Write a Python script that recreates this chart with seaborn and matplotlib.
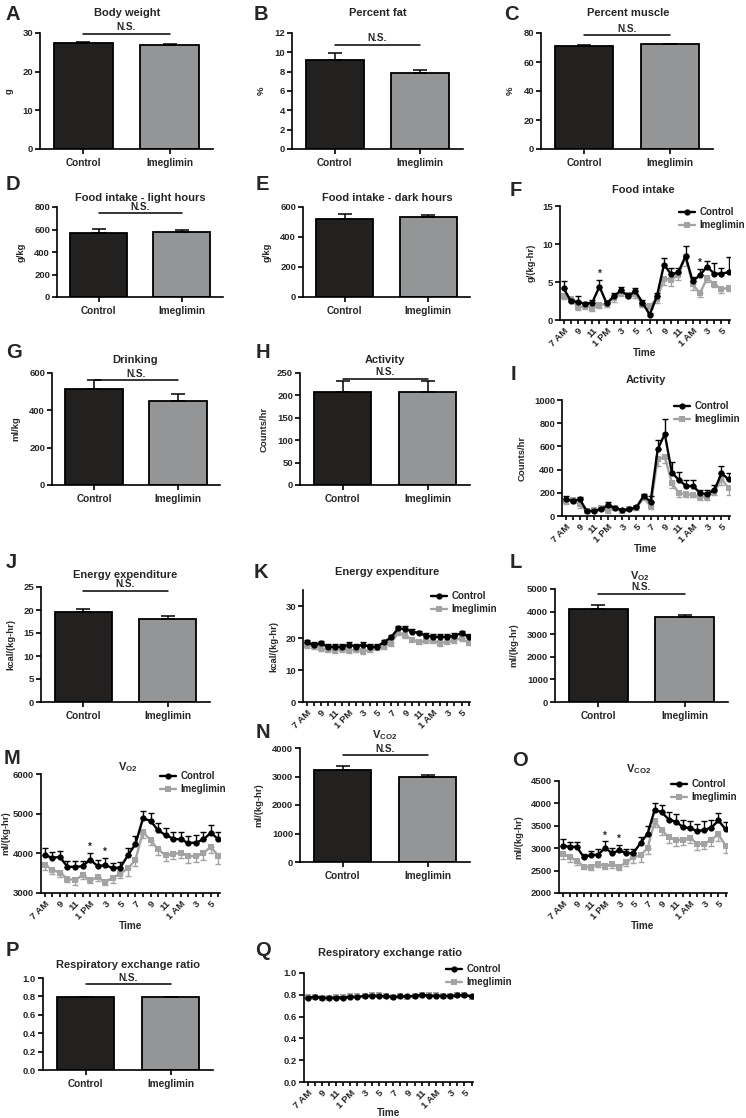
import numpy as np
import pandas as pd
import seaborn as sns
from matplotlib import pyplot as plt

sns.set_theme(style="ticks")
plt.rcParams['font.family'] = ['Liberation Sans', 'DejaVu Sans']
plt.rcParams['font.weight'] = 'bold'
plt.rcParams['axes.labelweight'] = 'bold'
plt.rcParams['mathtext.fontset'] = 'custom'
plt.rcParams['mathtext.bf'] = 'Liberation Sans:bold'
plt.rcParams['mathtext.rm'] = 'Liberation Sans:bold'
plt.rcParams['mathtext.default'] = 'bf'

# ---------------- data ----------------
groups = ['Control', 'Imeglimin']

body_weight = [27.3, 26.9]
body_weight_sem = [0.5, 0.3]
pct_fat = [9.2, 7.9]
pct_fat_sem = [0.7, 0.3]
pct_muscle = [71.2, 72.3]
pct_muscle_sem = [0.8, 0.3]
food_light = [565, 580]
food_light_sem = [40, 18]
food_dark = [518, 533]
food_dark_sem = [35, 15]
drinking = [515, 450]
drinking_sem = [45, 40]
activity = [207, 207]
activity_sem = [25, 25]
energy = [19.6, 18.1]
energy_sem = [0.7, 0.5]
vo2 = [4100, 3760]
vo2_sem = [170, 110]
vco2 = [3240, 2970]
vco2_sem = [130, 90]
rer = [0.79, 0.79]
rer_sem = [0.005, 0.005]

hours = list(range(24))
hour_labels = ['7 AM', '', '9', '', '11', '', '1 PM', '', '3', '', '5', '',
               '7', '', '9', '', '11', '', '1 AM', '', '3', '', '5', '']

food_ctrl = [4.2, 2.5, 2.4, 2.1, 2.3, 4.4, 2.2, 3.1, 3.9, 3.1, 3.8, 2.3,
             0.7, 3.1, 7.3, 6.0, 6.3, 8.4, 5.1, 5.9, 7.0, 6.1, 6.1, 6.3]
food_ctrl_sem = [0.9, 0.3, 0.8, 0.3, 0.3, 0.8, 0.3, 0.5, 0.5, 0.4, 0.4, 0.3,
                 0.2, 0.4, 0.9, 0.9, 0.6, 1.3, 0.5, 0.8, 0.8, 1.4, 0.8, 2.0]
food_ime = [3.1, 2.7, 1.7, 1.8, 1.6, 2.0, 2.1, 2.9, 3.6, 3.3, 3.4, 2.1,
            1.9, 2.7, 5.4, 5.3, 5.9, 8.3, 4.7, 3.5, 5.5, 4.7, 4.1, 4.2]
food_ime_sem = [0.4, 0.3, 0.4, 0.3, 0.4, 0.4, 0.4, 0.5, 0.4, 0.4, 0.5, 0.4,
                0.4, 0.5, 0.8, 0.8, 0.7, 1.2, 0.7, 0.5, 0.5, 0.4, 0.5, 0.4]

act_ctrl = [144, 130, 144, 43, 43, 57, 95, 66, 52, 57, 75, 172,
            124, 575, 707, 374, 310, 259, 259, 195, 190, 224, 368, 316]
act_ctrl_sem = [30, 20, 20, 10, 10, 10, 25, 15, 10, 10, 15, 20,
                50, 80, 125, 90, 70, 55, 50, 30, 30, 40, 60, 55]
act_ime = [130, 135, 100, 40, 50, 65, 50, 70, 45, 60, 65, 160,
           85, 490, 510, 285, 195, 190, 180, 165, 165, 210, 320, 240]
act_ime_sem = [30, 25, 30, 10, 10, 15, 20, 15, 10, 10, 15, 20,
               25, 60, 50, 40, 30, 25, 20, 25, 25, 30, 50, 55]

ee_ctrl = [18.7, 17.8, 18.3, 17.3, 17.3, 17.3, 17.9, 17.3, 17.9, 17.3, 17.3, 18.7,
           20.2, 23.0, 22.8, 22.0, 21.5, 20.7, 20.4, 20.4, 20.4, 20.7, 21.5, 20.4]
ee_ctrl_sem = [0.8] * 24
ee_ime = [17.7, 17.4, 16.8, 16.3, 16.2, 16.5, 16.1, 16.3, 15.9, 16.3, 16.9, 17.3,
          18.4, 21.7, 20.8, 19.5, 18.8, 19.1, 19.2, 18.4, 18.9, 19.3, 20.0, 18.5]
ee_ime_sem = [0.8] * 24

vo2_ctrl = [3950, 3890, 3910, 3660, 3660, 3675, 3840, 3680, 3700, 3630, 3640, 3950,
            4230, 4880, 4820, 4580, 4460, 4370, 4350, 4260, 4270, 4350, 4520, 4350]
vo2_ctrl_sem = [180, 140, 140, 150, 150, 140, 180, 150, 170, 130, 130, 180,
                200, 180, 200, 180, 180, 180, 180, 180, 200, 200, 200, 200]
vo2_ime = [3700, 3590, 3510, 3360, 3320, 3450, 3320, 3400, 3280, 3380, 3490, 3620,
           3830, 4540, 4330, 4100, 3950, 3990, 4010, 3930, 3930, 4010, 4160, 3930]
vo2_ime_sem = [130, 120, 110, 80, 120, 90, 80, 90, 90, 120, 110, 180,
               150, 150, 120, 130, 150, 130, 130, 170, 140, 170, 150, 200]

vco2_ctrl = [3060, 3030, 3030, 2800, 2845, 2855, 3000, 2890, 2950, 2890, 2890, 3120,
             3320, 3860, 3800, 3640, 3590, 3470, 3450, 3380, 3410, 3460, 3620, 3420]
vco2_ctrl_sem = [150, 110, 100, 70, 100, 120, 150, 110, 120, 100, 100, 140,
                 170, 150, 170, 170, 170, 160, 160, 150, 200, 180, 170, 170]
vco2_ime = [2880, 2800, 2720, 2590, 2590, 2650, 2610, 2640, 2580, 2690, 2800, 2840,
            3000, 3600, 3400, 3240, 3180, 3190, 3230, 3100, 3100, 3190, 3310, 3060]
vco2_ime_sem = [120, 110, 100, 60, 80, 80, 80, 90, 70, 90, 120, 150,
                130, 120, 100, 120, 130, 110, 120, 140, 120, 140, 140, 160]

rer_ctrl = [0.775, 0.78, 0.775, 0.77, 0.775, 0.775, 0.78, 0.78, 0.79, 0.79, 0.79, 0.785,
            0.78, 0.785, 0.785, 0.79, 0.80, 0.79, 0.79, 0.79, 0.79, 0.795, 0.80, 0.785]
rer_ctrl_sem = [0.006] * 24
rer_ime = [0.78, 0.78, 0.775, 0.77, 0.78, 0.78, 0.785, 0.785, 0.79, 0.795, 0.795, 0.785,
           0.78, 0.785, 0.78, 0.785, 0.795, 0.795, 0.795, 0.79, 0.79, 0.795, 0.795, 0.78]
rer_ime_sem = [0.006] * 24

# ---------------- style ----------------
W, H = 746, 1118
DARK = '#231f20'
GRAY = '#939598'
LINE_GRAY = '#a3a3a3'

fig = plt.figure(figsize=(W / 100, H / 100), dpi=100)


def box(x0, y0, x1, y1):
    return fig.add_axes([x0 / W, 1 - y1 / H, (x1 - x0) / W, (y1 - y0) / H])


def style_axes(ax):
    sns.despine(ax=ax)
    for s in ['left', 'bottom']:
        ax.spines[s].set_linewidth(1.2)
        ax.spines[s].set_color('black')
    ax.tick_params(axis='both', width=1.2, length=3.5, color='black',
                   labelsize=6.8, pad=1.5)
    ax.set_facecolor('white')


def bar_panel(ax, means, sems, ymax, ystep, ylabel, ns=None):
    df = pd.DataFrame({'group': groups, 'value': means})
    sns.barplot(data=df, x='group', y='value', hue='group', palette=[DARK, GRAY],
                width=0.68, edgecolor='black', linewidth=1.3, errorbar=None,
                legend=False, ax=ax)
    ax.errorbar([0, 1], means, yerr=[[0, 0], sems], fmt='none', ecolor='black',
                elinewidth=1.1, capsize=5, capthick=1.1, zorder=3)
    ax.set_xlim(-0.5, 1.5)
    ax.set_ylim(0, ymax)
    ax.set_yticks(np.arange(0, ymax + ystep / 2, ystep))
    style_axes(ax)
    ax.tick_params(axis='x', labelsize=7.2, pad=3)
    ax.set_xlabel('')
    ax.set_ylabel(ylabel, fontsize=6.8, labelpad=6)
    if ns is not None:
        ax.plot([0, 1], [ns, ns], color='black', lw=1.1, clip_on=False)
        ax.text(0.5, ns + ymax * 0.012, 'N.S.', ha='center', va='bottom',
                fontsize=7.2, clip_on=False)


def ts_panel(ax, ctrl, ctrl_sem, ime, ime_sem, ylim, yticks, ylabel,
             legend_xy, stars=(), xlabel='Time', ylabelpad=5, xlabelpad=0):
    df = pd.DataFrame({
        'hour': hours * 2,
        'value': list(ctrl) + list(ime),
        'group': ['Control'] * 24 + ['Imeglimin'] * 24,
    })
    sns.lineplot(data=df, x='hour', y='value', hue='group', style='group',
                 markers={'Control': 'o', 'Imeglimin': 's'}, dashes=False,
                 palette={'Control': 'black', 'Imeglimin': LINE_GRAY},
                 markersize=4.5, markeredgewidth=0, linewidth=1.7,
                 errorbar=None, ax=ax)
    ax.errorbar(hours, ime, yerr=[ime_sem, [0] * 24], fmt='none',
                ecolor=LINE_GRAY, elinewidth=1, capsize=2.3, capthick=1, zorder=1.5)
    ax.errorbar(hours, ctrl, yerr=[[0] * 24, ctrl_sem], fmt='none',
                ecolor='black', elinewidth=1, capsize=2.3, capthick=1, zorder=2.6)
    for ln in ax.lines:
        if ln.get_color() == 'black':
            ln.set_zorder(3)
    for i in stars:
        ax.text(i, ctrl[i] + ctrl_sem[i] + (ylim[1] - ylim[0]) * 0.01, '*',
                ha='center', va='bottom', fontsize=7)
    h, l = ax.get_legend_handles_labels()
    ax.legend(h, l, loc='upper left', frameon=False, fontsize=7,
              bbox_to_anchor=(legend_xy[0] / W, 1 - legend_xy[1] / H),
              bbox_transform=fig.transFigure, borderaxespad=0, borderpad=0,
              handlelength=1.6, handletextpad=0.5, labelspacing=0.35)
    ax.set_xlim(-0.5, 23.2)
    ax.set_ylim(*ylim)
    ax.set_yticks(yticks)
    ax.set_xticks(hours)
    ax.set_xticklabels(hour_labels, rotation=45, ha='right',
                       rotation_mode='anchor')
    style_axes(ax)
    ax.tick_params(axis='x', length=3, pad=1.5, labelsize=6.8)
    ax.set_xlabel(xlabel, fontsize=7.2, labelpad=xlabelpad)
    ax.set_ylabel(ylabel, fontsize=6.8, labelpad=ylabelpad)


# ---------------- panels ----------------
ax = box(40, 33, 213, 149)
bar_panel(ax, body_weight, body_weight_sem, 30, 10, 'g', ns=29.8)
ax = box(292, 33, 463, 149)
bar_panel(ax, pct_fat, pct_fat_sem, 12, 2, '%', ns=10.8)
ax = box(541, 33, 713, 149)
bar_panel(ax, pct_muscle, pct_muscle_sem, 80, 20, '%', ns=78.5)

ax = box(57, 207, 223, 297)
bar_panel(ax, food_light, food_light_sem, 800, 200, 'g/kg', ns=745)
ax = box(303, 207, 470, 297)
bar_panel(ax, food_dark, food_dark_sem, 600, 200, 'g/kg')
ax = box(560, 206, 730, 320)
ts_panel(ax, food_ctrl, food_ctrl_sem, food_ime, food_ime_sem, (0, 15),
         [0, 5, 10, 15], 'g/(kg-hr)', (679, 207), stars=(5, 19))

ax = box(52, 373, 220, 485)
bar_panel(ax, drinking, drinking_sem, 600, 200, 'ml/kg', ns=560)
ax = box(300, 373, 470, 485)
bar_panel(ax, activity, activity_sem, 250, 50, 'Counts/hr', ns=237)
ax = box(562, 400, 730, 516)
ts_panel(ax, act_ctrl, act_ctrl_sem, act_ime, act_ime_sem, (0, 1000),
         [0, 200, 400, 600, 800, 1000], 'Counts/hr', (674, 401))

ax = box(41, 587, 210, 702)
bar_panel(ax, energy, energy_sem, 25, 5, 'kcal/(kg-hr)', ns=24.2)
ax = box(303, 590, 470, 702)
ts_panel(ax, ee_ctrl, ee_ctrl_sem, ee_ime, ee_ime_sem, (0, 35),
         [0, 10, 20, 30], 'kcal/(kg-hr)', (431, 591), xlabel='')
ax = box(555, 589, 728, 702)
bar_panel(ax, vo2, vo2_sem, 5000, 1000, 'ml/(kg-hr)', ns=4800)

ax = box(41, 774, 220, 893)
ts_panel(ax, vo2_ctrl, vo2_ctrl_sem, vo2_ime, vo2_ime_sem, (3000, 6000),
         [3000, 4000, 5000, 6000], 'ml/(kg-hr)', (160, 771), stars=(6, 8),
         ylabelpad=2)
ax = box(300, 748, 470, 862)
bar_panel(ax, vco2, vco2_sem, 4000, 1000, 'ml/(kg-hr)', ns=3740)
ax = box(559, 781, 727, 893)
ts_panel(ax, vco2_ctrl, vco2_ctrl_sem, vco2_ime, vco2_ime_sem, (2000, 4500),
         [2000, 2500, 3000, 3500, 4000, 4500], 'ml/(kg-hr)', (671, 779),
         stars=(6, 8))

ax = box(43, 978, 213, 1070)
bar_panel(ax, rer, rer_sem, 1.0, 0.2, '', ns=0.93)
ax.set_yticks([0.0, 0.2, 0.4, 0.6, 0.8, 1.0])
ax.set_yticklabels(['0.0', '0.2', '0.4', '0.6', '0.8', '1.0'])
ax = box(304, 973, 473, 1082)
ts_panel(ax, rer_ctrl, rer_ctrl_sem, rer_ime, rer_ime_sem, (0, 1.0),
         [0.0, 0.2, 0.4, 0.6, 0.8, 1.0], '', (446, 964), xlabelpad=-2)
ax.set_yticklabels(['0.0', '0.2', '0.4', '0.6', '0.8', '1.0'])

# ---------------- titles and panel letters ----------------
titles = [
    ('Body weight', 127, 13), ('Percent fat', 378, 13), ('Percent muscle', 628, 13),
    ('Food intake - light hours', 140, 198), ('Food intake - dark hours', 387, 198),
    ('Food intake', 643, 190), ('Drinking', 135, 360), ('Activity', 385, 360),
    ('Activity', 646, 380), ('Energy expenditure', 125, 575),
    ('Energy expenditure', 387, 572), (r'$\mathbf{V_{O2}}$', 640, 576),
    (r'$\mathbf{V_{O2}}$', 128, 767), (r'$\mathbf{V_{CO2}}$', 385, 735),
    (r'$\mathbf{V_{CO2}}$', 639, 769), ('Respiratory exchange ratio', 128, 965),
    ('Respiratory exchange ratio', 390, 953),
]
for txt, x, y in titles:
    fig.text(x / W, 1 - y / H, txt, ha='center', va='center', fontsize=8,
             fontweight='bold')

letters = [
    ('A', 6, 15), ('B', 254, 15), ('C', 504, 15), ('D', 6, 184), ('E', 256, 184),
    ('F', 510, 190), ('G', 6, 352), ('H', 256, 352), ('I', 511, 374),
    ('J', 6, 562), ('K', 254, 573), ('L', 510, 562), ('M', 4, 758),
    ('N', 256, 733), ('O', 512, 760), ('P', 6, 950), ('Q', 255, 950),
]
for txt, x, y in letters:
    fig.text(x / W, 1 - y / H, txt, ha='left', va='center', fontsize=14.5,
             fontweight='bold')

fig.savefig('out.png', dpi=100, facecolor='white')
